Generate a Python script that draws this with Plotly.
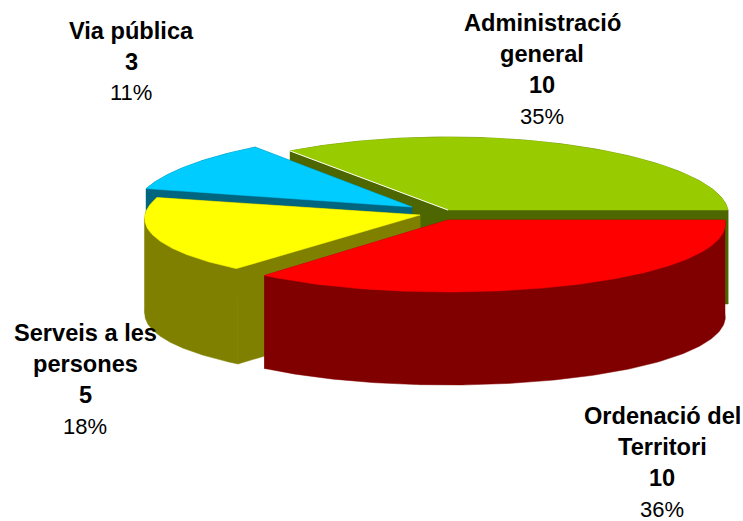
import numpy as np
import plotly.graph_objects as go

# Data, clockwise from the east edge of the pie
categories = ["Ordenació del<br>Territori", "Serveis a les<br>persones", "Via pública", "Administració<br>general"]
counts = [10, 5, 3, 10]
percents = [36, 18, 11, 35]

# Styles
top_colors = ["#FF0000", "#FFFF00", "#00CCFF", "#99CC00"]
side_colors = ["#800000", "#808000", "#006680", "#4D6600"]

# Pseudo-3D projection settings for each exploded slice
centers_x = [448, 420, 412, 448]
centers_y = [220, 215, 207, 210]
radius_x = [277, 275, 278, 280]
radius_y = [72, 70, 74, 73]
depths = [93, 95, 94, 94]
PERSPECTIVE = 0.05

# Label placement
label_x = [662, 85, 131, 542]
label_y = [416, 332.5, 30.5, 22.5]
LINE_STEP = 31.2


def project(i, t):
    x = centers_x[i] + radius_x[i] * np.cos(t) * (1 + PERSPECTIVE * np.sin(t))
    y = centers_y[i] + radius_y[i] * np.sin(t)
    return x, y


def poly(fig, xs, ys, color):
    fig.add_trace(go.Scatter(
        x=list(xs), y=list(ys), mode="lines", fill="toself", fillcolor=color,
        line=dict(color=color, width=0.5), hoverinfo="skip", showlegend=False,
    ))


edges = np.radians(np.concatenate([[0], np.cumsum(percents)]) * 3.6)
fig = go.Figure()

for i in [3, 2, 1, 0]:
    t = np.linspace(edges[i], edges[i + 1], 160)
    ax, ay = project(i, t)
    cx, cy = centers_x[i], centers_y[i]
    side = side_colors[i]
    d = depths[i]
    # cut faces
    for x_end, y_end in [(ax[0], ay[0]), (ax[-1], ay[-1])]:
        poly(fig, [cx, x_end, x_end, cx, cx],
             [cy, y_end, y_end + d, cy + d, cy], side)
    # outer wall, split where the rim turns back so that each part is a simple band
    k = int(np.argmin(ax))
    for part_x, part_y in [(ax[:k + 1], ay[:k + 1]), (ax[k:], ay[k:])]:
        if len(part_x) > 1:
            poly(fig, np.r_[part_x, part_x[::-1]], np.r_[part_y, part_y[::-1] + d], side)
    # top face
    poly(fig, np.r_[cx, ax, cx], np.r_[cy, ay, cy], top_colors[i])
    if i == 3:
        # pale highlight along the near cut edge of the green slice
        fig.add_trace(go.Scatter(x=[ax[0], cx], y=[ay[0], cy], mode="lines",
                                 line=dict(color="white", width=1), hoverinfo="skip", showlegend=False))

ann = []
for i, name in enumerate(categories):
    lines = name.split("<br>") + [str(counts[i])]
    for j, line in enumerate(lines):
        ann.append(dict(x=label_x[i], y=label_y[i] + j * LINE_STEP, text=f"<b>{line}</b>",
                        showarrow=False, xanchor="center", yanchor="middle",
                        font=dict(family="Liberation Sans", size=23.6, color="black")))
    ann.append(dict(x=label_x[i], y=label_y[i] + len(lines) * LINE_STEP, text=f"{percents[i]}%",
                    showarrow=False, xanchor="center", yanchor="middle",
                    font=dict(family="Liberation Sans", size=22, color="black")))

fig.update_layout(
    width=743, height=521, margin=dict(l=0, r=0, t=0, b=0),
    paper_bgcolor="white", plot_bgcolor="white", annotations=ann,
    xaxis=dict(range=[0, 743], visible=False, fixedrange=True),
    yaxis=dict(range=[521, 0], visible=False, fixedrange=True),
)
fig.write_html("out.html", config={"displayModeBar": False},
               post_script="document.body.style.margin='0';document.body.style.overflow='hidden';")
